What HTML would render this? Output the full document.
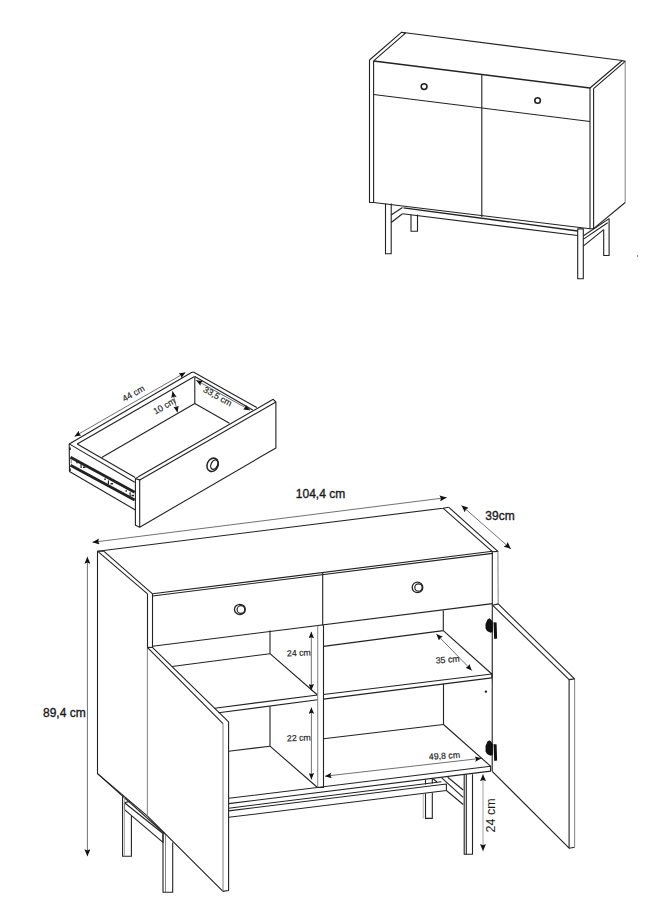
<!DOCTYPE html>
<html><head><meta charset="utf-8">
<style>
html,body{margin:0;padding:0;background:#fff;}
body{width:660px;height:911px;overflow:hidden;}
svg{display:block;}
text{font-family:"Liberation Sans",sans-serif;fill:#1a1a1a;}
.b{stroke:#1a1a1a;stroke-width:0.35;}
.s{stroke:#333;stroke-width:0.2;}
</style></head>
<body>
<svg width="660" height="911" viewBox="0 0 660 911">
<defs>
<marker id="ah" viewBox="0 0 7 6" refX="7" refY="3" markerWidth="7" markerHeight="6" orient="auto-start-reverse" markerUnits="userSpaceOnUse" preserveAspectRatio="none">
<path d="M0,0 L7,3 L0,6 L1.2,3 z" fill="#111"/>
</marker>
<marker id="ahs" viewBox="0 0 6 5" refX="6" refY="2.5" markerWidth="6.5" markerHeight="5.5" orient="auto-start-reverse" markerUnits="userSpaceOnUse" preserveAspectRatio="none">
<path d="M0,0 L6,2.5 L0,5 L1,2.5 z" fill="#111"/>
</marker>
</defs>
<rect width="660" height="911" fill="#fff"/>

<!-- ============ TOP SMALL SIDEBOARD ============ -->
<g id="top" fill="none" stroke="#222" stroke-width="1.1" stroke-linejoin="round">
  <!-- top slab -->
  <path d="M369.5,60 L401.4,32.3 L622.3,60.5 L590,88"/>
  <path d="M401.4,32.3 L405.5,33.2 L373.6,60.9"/>
  <path d="M622.3,60.5 L625.2,61.4 L593.6,88.6"/>
  <path d="M373.6,60.9 L590,88" stroke-width="1.5"/>
  <!-- left panel -->
  <path d="M369.5,60 L369.5,202.5 L373.6,202.5 L373.6,60.9"/>
  <!-- front -->
  <path d="M373.6,94.5 L590,121.5"/>
  <path d="M481.8,74 L481.8,217"/>
  <path d="M373.6,202.5 L590,228.7"/>
  <!-- right panel -->
  <path d="M590,88 L590,228.7 L593.6,228.7 L593.6,88.6"/>
  <path d="M625.2,61.4 L625.2,202.5" stroke="#8c8c8c"/>
  <path d="M625.2,202.5 L593.6,228.7"/>
  <!-- knobs -->
  <circle cx="424.1" cy="86.6" r="2.9" stroke-width="1.6"/>
  <circle cx="537.6" cy="100.5" r="2.8" stroke-width="1.6"/>
  <!-- base frame -->
  <path d="M403.5,207.8 L577.7,231" stroke-width="1.3"/>
  <path d="M402.5,213.8 L577.5,235.5"/>
  <path d="M391.2,215 L402.5,207.5"/>
  <path d="M391.2,222.5 L402.5,213.8"/>
  <path d="M583.5,235.7 L609.1,218.6"/>
  <path d="M583.5,239.1 L607.7,222.7"/>
  <path d="M583.5,245.9 L603.7,229.6"/>
  <!-- legs -->
  <path d="M385.5,203.5 L385.5,253.7 L391.2,253.7 L391.2,203.5"/>
  <path d="M411,214.5 L411,231.2 L417.5,231.2 L417.5,214.5"/>
  <path d="M577.7,228.9 L577.7,278.7 L583.3,278.7 L583.3,228.9 Z"/>
  <path d="M603.7,229.6 L603.7,255.5 L609.1,255.5 L609.1,218.6"/>
</g>
<circle cx="637.5" cy="256" r="0.7" fill="#555"/>

<!-- ============ DRAWER ============ -->
<g id="drawer" fill="none" stroke="#222" stroke-width="1.1" stroke-linejoin="round">
  <!-- left side panel (with runner) -->
  <path d="M69.2,443.9 L134.7,482.2"/>
  <path d="M77.2,443.9 L135.2,477.4"/>
  <path d="M69.2,443.9 L69.5,471.6 L135.4,510"/>
  <!-- back panel -->
  <path d="M69.2,443.9 L191.5,372.6 L193.4,372"/>
  <path d="M77.2,443.9 L194.5,376.4"/>
  <!-- right side panel -->
  <path d="M193.4,372 L256.8,407.5"/>
  <path d="M194.8,376.4 L252.7,410"/>
  <path d="M194.8,376.8 L194.8,403.4"/>
  <!-- floor junctions -->
  <path d="M101.7,457.5 L194.8,403.4 L229.5,423.2"/>
  <!-- front panel -->
  <path d="M135.4,478.6 L138.7,476.6 L273.2,399.3 L275.9,402 L275.9,448 L139.7,527.2 L135.4,525.3 Z"/>
  <path d="M139.7,479.9 L139.7,527.2"/>
  <path d="M135.4,478.6 L139.7,479.9 L275.9,402"/>
  <!-- runner -->
  <path d="M70.5,457.3 L134.7,492.2" stroke-width="2.8"/>
  <path d="M70.5,465.2 L134.7,500" stroke-width="2.8"/>
  <path d="M71.2,459 L71.2,463.5" stroke-width="1.2" stroke="#888"/>
  <!-- knob -->
  <ellipse cx="212.6" cy="464.8" rx="5.4" ry="6.9" stroke-width="1.5" transform="rotate(25 212.6 464.8)"/>
  <ellipse cx="214.3" cy="464.6" rx="3.2" ry="5" stroke-width="1.3" transform="rotate(25 214.3 464.6)"/>
</g>
<g fill="#222">
  <rect x="69" y="447.5" width="1.8" height="2.5"/>
  <rect x="69" y="468.5" width="1.8" height="2.5"/>
  <rect x="76.3" y="461.8" width="1.5" height="1.5"/>
  <rect x="80.5" y="464.2" width="1.2" height="3.8"/>
  <rect x="83" y="466.5" width="2.5" height="1.5"/>
  <rect x="104.3" y="478.5" width="1.5" height="1.5"/>
  <rect x="107.8" y="480.5" width="1.2" height="3.8"/>
  <rect x="110.5" y="483" width="2.5" height="1.5"/>
  <rect x="125.5" y="490.2" width="1.5" height="1.5"/>
  <rect x="129.5" y="492.3" width="1.2" height="3.8"/>
  <rect x="131.5" y="494.8" width="2.5" height="1.5"/>
</g>
<!-- drawer dims -->
<g fill="none" stroke="#333" stroke-width="0.7">
  <path d="M74.5,436.4 L185.5,372.5" marker-start="url(#ahs)" marker-end="url(#ahs)"/>
  <path d="M196.1,380.2 L250,410.2" marker-start="url(#ahs)" marker-end="url(#ahs)"/>
  <path d="M172.5,391.2 L177.5,412.5" marker-start="url(#ahs)" marker-end="url(#ahs)"/>
</g>
<text x="0" y="0" font-size="8.8" class="s" transform="translate(124.6,402) rotate(-30)">44 cm</text>
<text x="0" y="0" font-size="8.8" class="s" transform="translate(155.4,414.6) rotate(-30)">10 cm</text>
<text x="0" y="0" font-size="8.8" class="s" transform="translate(202.6,391.5) rotate(29)">33,5 cm</text>

<!-- ============ BIG SIDEBOARD ============ -->
<g id="big" fill="none" stroke="#222" stroke-width="1.1" stroke-linejoin="round">
  <!-- top slab -->
  <path d="M97.5,551.2 L443,508.2 L448.8,507.3"/>
  <path d="M97.5,551.2 L147.5,593.8"/>
  <path d="M103.7,551.2 L152.5,593.8"/>
  <path d="M443,508.2 L492.4,551.7 L497.9,551.4 L448.8,507.3"/>
  <path d="M152.5,593.8 L492.5,551.2"/>
  <path d="M152.5,596 L492.5,553.4"/>
  <!-- left side panel -->
  <path d="M103.7,551.2 L97.5,551.2 L97.5,773.7 L147.5,816.2"/>
  <path d="M147.5,593.8 L147.5,647.4"/>
  <path d="M147.4,647.4 L147.4,816.2" stroke="#8c8c8c"/>
  <path d="M152.5,593.8 L152.5,648"/>
  <!-- drawers front -->
  <path d="M152.5,646.3 L492.5,603.6"/>
  <path d="M322.7,572.5 L322.7,625.5"/>
  <ellipse cx="239.9" cy="609.4" rx="5.4" ry="5.1" stroke-width="1.3"/>
  <circle cx="240.9" cy="609.5" r="3.8" stroke-width="1.2"/>
  <ellipse cx="417.5" cy="587.4" rx="5.3" ry="5.3" stroke-width="1.3"/>
  <circle cx="418.5" cy="587.5" r="3.7" stroke-width="1.2"/>
  <!-- right side panel front edge -->
  <path d="M492.3,551.5 L492.2,771.3"/>
  <path d="M497.9,551.4 L498.2,603.9" stroke="#8c8c8c"/>
  <!-- interior left compartment -->
  <path d="M270,630.5 L270,653.7 L317.5,695"/>
  <path d="M172,666.5 L270,653.7"/>
  <path d="M214.6,708.2 L317.7,695"/>
  <path d="M218.5,712.8 L317.7,699.7"/>
  <path d="M270,706.2 L270,746.2 L317.5,787.5"/>
  <path d="M228.7,751.2 L270,746.2"/>
  <!-- center divider -->
  <path d="M317.7,625.8 L317.7,787.5" stroke="#8c8c8c"/>
  <path d="M317.7,787.5 L323.5,787.5 L323.5,625.3"/>
  <!-- interior right compartment -->
  <path d="M323.5,646.4 L443.3,630.6 L443.3,610.6"/>
  <path d="M443.3,630.6 L491.8,674"/>
  <path d="M323.5,694.5 L491.8,674 L491.8,677.9 L323.5,699.1"/>
  <path d="M443.5,683.8 L443.5,724.5 L490.6,766.2"/>
  <path d="M323.5,738.7 L443.5,724.5"/>
  <!-- carcass bottom front -->
  <path d="M228.7,798.3 L490.6,766.2 L490.6,771.1 L228.7,803.6"/>
  <!-- base frame -->
  <path d="M228.7,808.2 L441.4,781.7"/>
  <path d="M228.7,810.9 L446.4,784 L446.4,790.5 L228.7,817.3"/>
  <path d="M441.4,777.7 L463.2,797.3"/>
  <path d="M447.7,777.3 L463.2,790"/>
  <path d="M446.4,790.5 L463.2,804.5"/>
  <path d="M433,778.8 L437,782"/>
  <!-- right legs -->
  <path d="M464.2,774.2 L464.2,854.2 L472.5,854.2 L472.5,774.2"/>
  <path d="M466.3,774.2 L466.3,854.2"/>
  <path d="M425.5,779.5 L425.5,784.5 M425.5,793.5 L425.5,818.4 L432.3,818.4 L432.3,792.6 M432.3,783.5 L432.3,778.5"/>
  <path d="M423.2,793.8 L423.2,818.4" stroke="#999" stroke-width="0.8"/>
  <!-- left legs + frame -->
  <path d="M97.5,773.7 L165,834"/>
  <path d="M124.5,802.7 L163,833.5 L163,842.4 L124.5,809.6 Z"/>
  <path d="M124.5,802.7 L129.5,801.4"/>
  <path d="M122.6,796.3 L122.6,856.2 L131.4,856.2 L131.4,815.9"/>
  <path d="M124.5,796.8 L124.5,856.2" stroke="#999" stroke-width="0.8"/>
  <path d="M163,833.5 L163,892.2 L172.7,892.2 L172.7,842.4"/>
  <path d="M165.5,834.5 L165.5,892.2" stroke="#666" stroke-width="0.8"/>
  <!-- left door -->
  <path d="M147.3,647.4 L223,723.6 M223,891.4 L147.5,816.2"/>
  <path d="M223,723.6 L223,891.4" stroke="#8c8c8c"/>
  <path d="M152.4,647.4 L228.6,721.8 L228.6,890.5 L223,891.4"/>
  <path d="M147.3,647.4 L152.4,647.4"/>
  <!-- right door -->
  <path d="M492.5,605.2 L569.1,679.6 L569.1,848.2 L492.2,771.3"/>
  <path d="M498.2,603.9 L574.6,678.9 M574.6,847.3 L569.1,848.2"/>
  <path d="M574.6,678.9 L574.6,847.3" stroke="#8c8c8c"/>
  <path d="M492.5,605.2 L498.2,603.9"/>
  <path d="M569.1,679.6 L574.6,678.9"/>
</g>
<!-- hinges -->
<g fill="#111">
  <path d="M485.5,624 L487.5,619.5 L489.5,618.2 L491.5,620 L492.8,622.5 L492.8,632 L490.5,632.8 L487,631 L485.6,628.5 Z"/>
  <path d="M493.5,622.2 L496.6,622.6 L497.1,638.5 L494.2,638.9 Z"/>
  <path d="M485.5,746 L487.5,741.5 L489.5,740.2 L491.5,742 L492.8,744.5 L492.8,755 L490.5,755.8 L487,754 L485.6,751.5 Z"/>
  <path d="M493.5,744 L496.6,744.4 L497.1,760.5 L494.2,760.9 Z"/>
</g>
<ellipse cx="485.9" cy="691.7" rx="1.3" ry="1.1" fill="#222"/>

<!-- big dims -->
<g fill="none" stroke="#333" stroke-width="0.7">
  <path d="M92.4,542.3 L446.7,497.6" marker-start="url(#ah)" marker-end="url(#ah)"/>
  <path d="M461.5,505.5 L510.9,548.9" marker-start="url(#ah)" marker-end="url(#ah)"/>
  <path d="M87.4,556.8 L87.4,856.2" marker-start="url(#ah)" marker-end="url(#ah)"/>
  <path d="M311.3,631.8 L311.3,690.5" marker-start="url(#ahs)" marker-end="url(#ahs)"/>
  <path d="M311.4,707.4 L311.4,779.5" marker-start="url(#ahs)" marker-end="url(#ahs)"/>
  <path d="M436.4,634.1 L471.8,670.5" marker-start="url(#ahs)" marker-end="url(#ahs)"/>
  <path d="M325,776.2 L481.5,758.3" marker-start="url(#ahs)" marker-end="url(#ahs)"/>
  <path d="M483,774.2 L483,851" marker-start="url(#ah)" marker-end="url(#ah)" stroke="#999" stroke-width="0.9"/>
</g>
<text x="295.8" y="498" font-size="12" class="b">104,4 cm</text>
<text x="485.3" y="519.9" font-size="12" class="b">39cm</text>
<text x="43" y="716.7" font-size="12" class="b">89,4 cm</text>
<text x="0" y="0" font-size="8.8" class="s" transform="translate(287,656.5) rotate(-3)">24 cm</text>
<text x="0" y="0" font-size="8.8" class="s" transform="translate(287,741.5) rotate(-3)">22 cm</text>
<text x="0" y="0" font-size="8.8" class="s" transform="translate(436,663.6) rotate(-5)">35 cm</text>
<text x="0" y="0" font-size="8.8" class="s" transform="translate(429,759.8) rotate(-4)">49,8 cm</text>
<text x="0" y="0" font-size="12.5" transform="translate(494.7,832.5) rotate(-90)">24 cm</text>
</svg>
</body></html>
